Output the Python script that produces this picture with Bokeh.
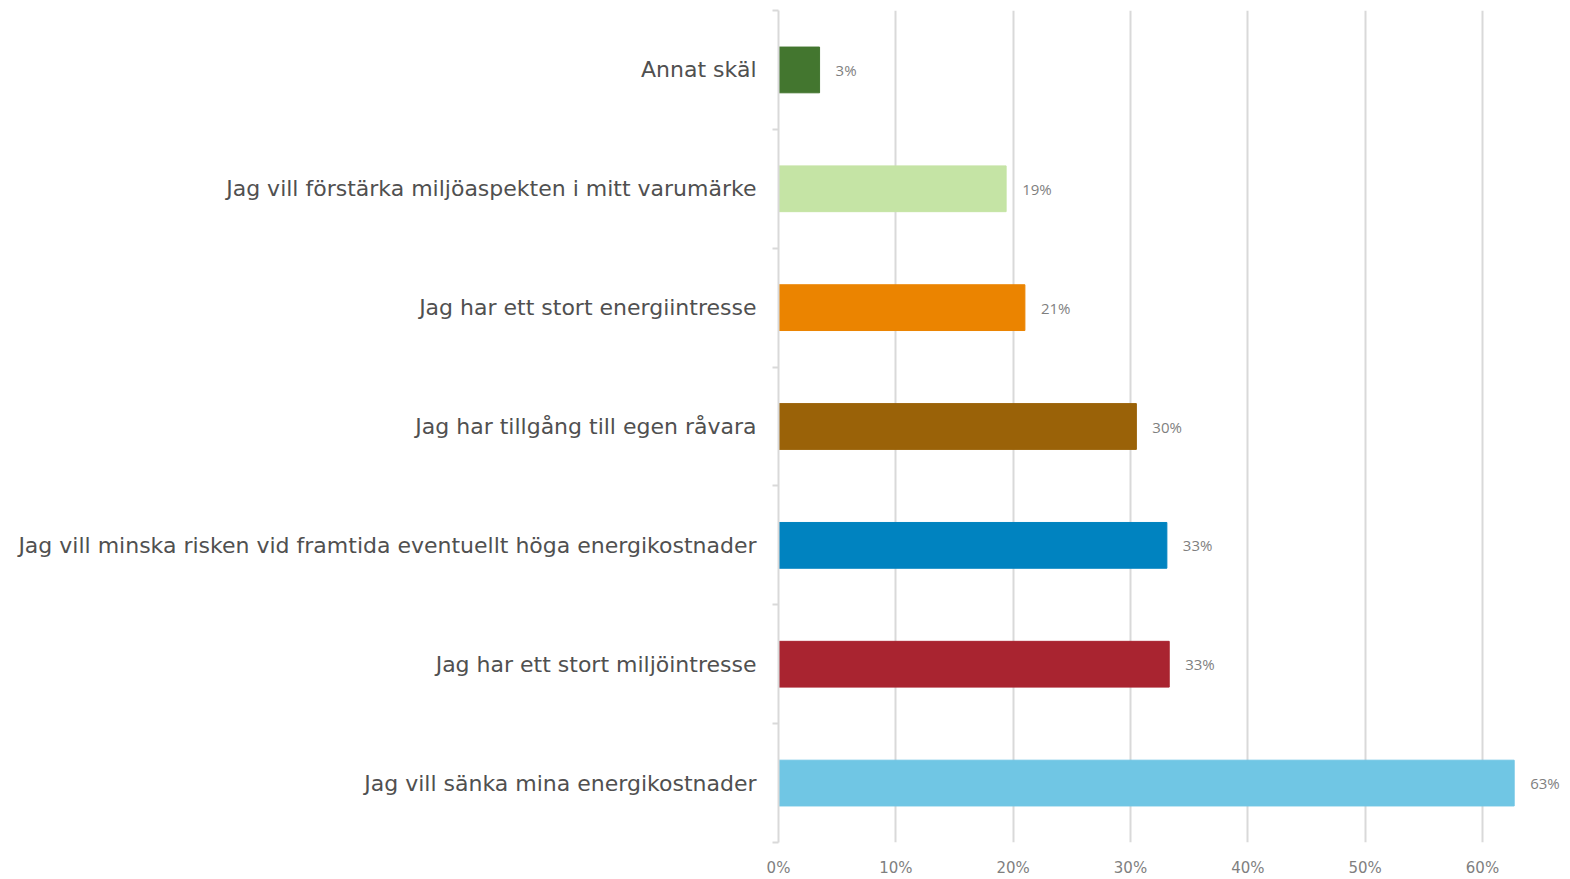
from bokeh.plotting import figure
from bokeh.models import ColumnDataSource, Range1d, FixedTicker, NumeralTickFormatter, LabelSet
from bokeh.core.properties import value
from bokeh.embed import file_html
from bokeh.resources import INLINE

# Data (top to bottom as shown)
categories = [
    "Annat skäl",
    "Jag vill förstärka miljöaspekten i mitt varumärke",
    "Jag har ett stort energiintresse",
    "Jag har tillgång till egen råvara",
    "Jag vill minska risken vid framtida eventuellt höga energikostnader",
    "Jag har ett stort miljöintresse",
    "Jag vill sänka mina energikostnader",
]
values = [0.035, 0.194, 0.210, 0.305, 0.331, 0.333, 0.627]
value_labels = ["3%", "19%", "21%", "30%", "33%", "33%", "63%"]
colors = ["#43762F", "#C5E4A5", "#EB8400", "#9A6208", "#0083C0", "#A92430", "#70C6E4"]
x_ticks = [0, 0.1, 0.2, 0.3, 0.4, 0.5, 0.6]

n = len(categories)
ypos = [n - i for i in range(n)]  # top category gets highest position

src = ColumnDataSource(dict(y=ypos, v=values, lab=value_labels, c=colors, cat=categories))

p = figure(width=1570, height=879, output_backend="svg", toolbar_location=None,
           x_range=Range1d(0, 0.675), y_range=Range1d(0.5, n + 0.5),
           min_border_left=778, min_border_right=0, min_border_top=10, min_border_bottom=36)
p.outline_line_color = None
p.background_fill_color = "white"
p.border_fill_color = "white"

p.hbar(y="y", right="v", left=0, height=0.385, color="c", source=src)

labels = LabelSet(x="v", y="y", text="lab", source=src, x_offset=16,
                  text_align="left", text_baseline="middle",
                  text_font=value("Open Sans"), text_font_size="15px", text_color="#7F7F7F")
p.add_layout(labels)

# x axis
p.xaxis.ticker = FixedTicker(ticks=x_ticks)
p.xaxis.formatter = NumeralTickFormatter(format="0%")
p.xaxis.axis_line_color = None
p.xaxis.major_tick_line_color = None
p.xaxis.minor_tick_line_color = None
p.xaxis.major_tick_out = 0
p.xaxis.major_label_text_font = "DejaVu Sans"
p.xaxis.major_label_text_font_size = "15px"
p.xaxis.major_label_text_color = "#7F7F7F"
p.xaxis.major_label_standoff = 16

p.xgrid.ticker = FixedTicker(ticks=x_ticks[1:])
p.xgrid.grid_line_color = "#D9D9D9"
p.xgrid.grid_line_width = 2
p.ygrid.grid_line_color = None

# y axis: labels at centers, ticks at category boundaries
p.yaxis.ticker = FixedTicker(ticks=ypos, minor_ticks=[k + 0.5 for k in range(n + 1)])
p.yaxis.major_label_overrides = {yv: c for yv, c in zip(ypos, categories)}
p.yaxis.axis_line_color = "#D9D9D9"
p.yaxis.axis_line_width = 2
p.yaxis.major_tick_line_color = None
p.yaxis.major_tick_out = 6
p.yaxis.minor_tick_line_color = "#D9D9D9"
p.yaxis.minor_tick_line_width = 2
p.yaxis.minor_tick_out = 6
p.yaxis.minor_tick_in = 0
p.yaxis.major_label_standoff = 16
p.yaxis.major_label_text_font = "DejaVu Sans"
p.yaxis.major_label_text_font_size = "22px"
p.yaxis.major_label_text_color = "#505050"

open("out.html", "w").write(file_html(p, INLINE))
